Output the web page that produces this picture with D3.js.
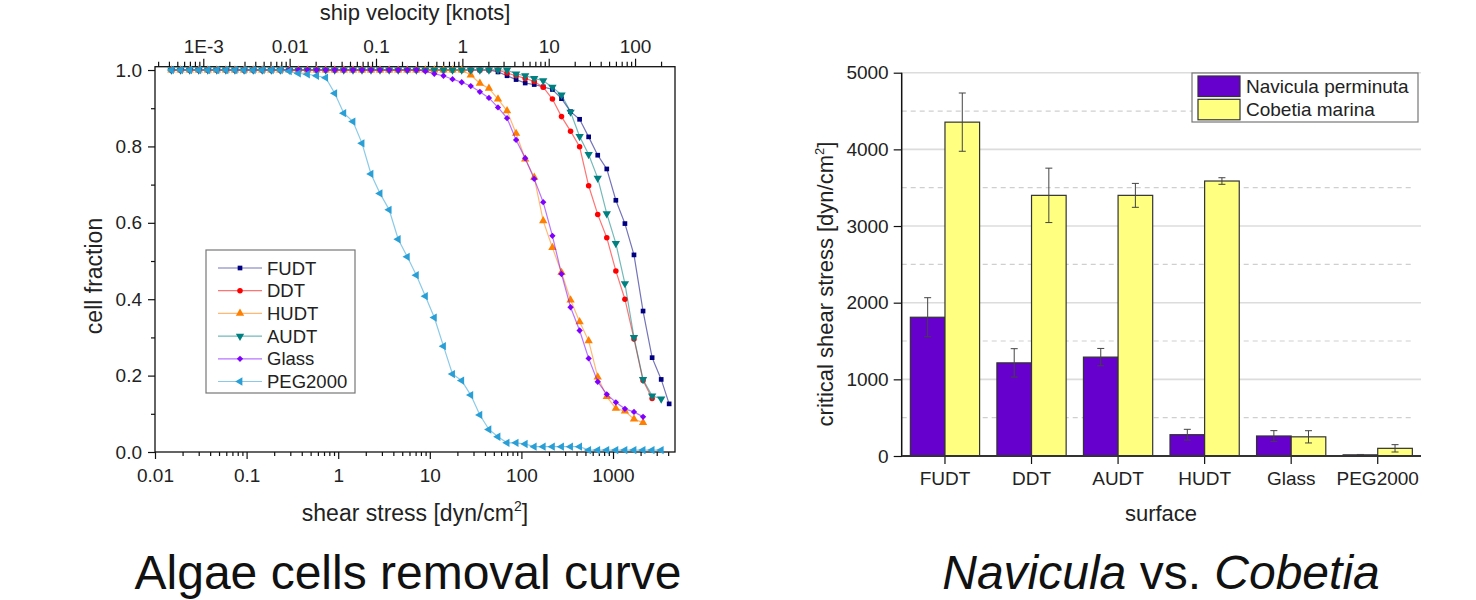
<!DOCTYPE html>
<html>
<head>
<meta charset="utf-8">
<script src="https://cdn.jsdelivr.net/npm/d3@7"></script>
<style>
body { margin: 0; background: #fff; }
svg { display: block; font-family: "Liberation Sans", Arial, sans-serif; }
</style>
</head>
<body>
<svg id="chart" width="1476" height="600"></svg>
<script>
// ---- left chart data: shear stress grid and cell fraction per surface ----
const stress = [0.0151, 0.019, 0.0239, 0.030, 0.0377, 0.0473, 0.0594, 0.0746, 0.0938, 0.118,
  0.148, 0.186, 0.233, 0.293, 0.368, 0.462, 0.581, 0.730, 0.916, 1.15,
  1.45, 1.82, 2.28, 2.86, 3.60, 4.52, 5.68, 7.13, 8.95, 11.2,
  14.1, 17.7, 22.3, 28.0, 35.2, 44.2, 55.5, 69.7, 87.5, 110,
  138, 173, 218, 274, 344, 432, 542, 681, 855, 1074,
  1349, 1694, 2128, 2673, 3357, 4100];

const fudt = [1, 1, 1, 1, 1, 1, 1, 1, 1, 1,
  1, 1, 1, 1, 1, 1, 1, 1, 1, 1,
  1, 1, 1, 1, 1, 1, 1, 1, 1, 1,
  1, 1, 1, 1, 1, 1, 0.995, 0.985, 0.975, 0.966,
  0.962, 0.956, 0.949, 0.925, 0.891, 0.871, 0.825, 0.777, 0.741, 0.659,
  0.598, 0.516, 0.369, 0.247, 0.190, 0.126];
const ddt = [1, 1, 1, 1, 1, 1, 1, 1, 1, 1,
  1, 1, 1, 1, 1, 1, 1, 1, 1, 1,
  1, 1, 1, 1, 1, 1, 1, 1, 1, 1,
  1, 1, 1, 1, 1, 1, 1, 0.992, 0.985, 0.978,
  0.970, 0.955, 0.924, 0.878, 0.840, 0.799, 0.697, 0.622, 0.561, 0.474,
  0.400, 0.296, 0.187, 0.140];
const hudt = [1, 1, 1, 1, 1, 1, 1, 1, 1, 1,
  1, 1, 1, 1, 1, 1, 1, 1, 1, 1,
  1, 1, 1, 1, 1, 1, 1, 1, 1, 1,
  1, 1, 1, 0.987, 0.965, 0.952, 0.924, 0.893, 0.834, 0.767,
  0.719, 0.605, 0.535, 0.470, 0.398, 0.341, 0.291, 0.196, 0.145, 0.114,
  0.107, 0.086, 0.077];
const audt = [1, 1, 1, 1, 1, 1, 1, 1, 1, 1,
  1, 1, 1, 1, 1, 1, 1, 1, 1, 1,
  1, 1, 1, 1, 1, 1, 1, 1, 1, 1,
  1, 1, 1, 1, 1, 1, 1, 1, 0.990, 0.985,
  0.978, 0.972, 0.955, 0.935, 0.890, 0.826, 0.779, 0.717, 0.624, 0.546,
  0.441, 0.300, 0.190, 0.147, 0.139];
const glass = [1, 1, 1, 1, 1, 1, 1, 1, 1, 1,
  1, 1, 1, 1, 1, 1, 1, 1, 1, 1,
  1, 1, 1, 1, 1, 1, 1, 1, 0.997, 0.990,
  0.985, 0.976, 0.968, 0.958, 0.943, 0.927, 0.902, 0.874, 0.817, 0.769,
  0.715, 0.654, 0.566, 0.466, 0.379, 0.318, 0.245, 0.184, 0.151, 0.130,
  0.113, 0.105, 0.092];
const peg2000 = [1, 1, 1, 1, 1, 1, 1, 1, 1, 1,
  1, 1, 1, 0.997, 0.991, 0.989, 0.985, 0.980, 0.939, 0.887,
  0.865, 0.808, 0.728, 0.677, 0.634, 0.557, 0.511, 0.463, 0.408, 0.352,
  0.277, 0.204, 0.187, 0.149, 0.097, 0.059, 0.040, 0.024, 0.024, 0.021,
  0.014, 0.014, 0.014, 0.014, 0.014, 0.014, 0.005, 0.005, 0.005, 0.005,
  0.005, 0.005, 0.005, 0.005, 0.005];

const seriesNames = ["FUDT", "DDT", "HUDT", "AUDT", "Glass", "PEG2000"];
const seriesValues = [fudt, ddt, hudt, audt, glass, peg2000];
const seriesColors = ["#000080", "#ff0000", "#ff8000", "#008080", "#8000ff", "#2a9fd6"];

const stressTickValues = [0.01, 0.1, 1, 10, 100, 1000];
const stressTickLabels = ["0.01", "0.1", "1", "10", "100", "1000"];
const velocityTickValues = [0.001, 0.01, 0.1, 1, 10, 100];
const velocityTickLabels = ["1E-3", "0.01", "0.1", "1", "10", "100"];
const fractionTicks = [0, 0.2, 0.4, 0.6, 0.8, 1.0];
const fractionMinor = [0.1, 0.3, 0.5, 0.7, 0.9];

// ---- right chart data ----
const surfaces = ["FUDT", "DDT", "AUDT", "HUDT", "Glass", "PEG2000"];
const species = ["Navicula perminuta", "Cobetia marina"];
const navicula = [1810, 1215, 1290, 278, 261, 15];
const naviculaErr = [255, 185, 113, 70, 70, 5];
const cobetia = [4355, 3400, 3400, 3587, 250, 100];
const cobetiaErr = [380, 355, 156, 43, 80, 48];
const speciesColors = ["#6600cc", "#ffff80"];
const criticalTicks = [0, 1000, 2000, 3000, 4000, 5000];
const criticalMinor = [500, 1500, 2500, 3500, 4500];

const svg = d3.select("#chart");
const ink = "#222";

const cleanAxis = (g, size) => {
  g.attr("font-family", null).attr("font-size", size);
  g.select(".domain").remove();
  g.selectAll(".tick line").attr("stroke", "#111").attr("stroke-width", 1.2);
  g.selectAll(".tick text").attr("fill", ink);
};

// ================= left: removal curve =================
const x = d3.scaleLog().domain([0.01, 4750]).range([155, 675]);
const xTop = d3.scaleLog().domain([2.76e-4, 290]).range([155, 675]);
const y = d3.scaleLinear().domain([0, 1.0087]).range([452, 66.7]);

const left = svg.append("g");

const minorOf = scale => scale.ticks().filter(t => {
  const m = t / Math.pow(10, Math.floor(Math.log10(t) + 1e-9));
  return Math.abs(m - 1) > 1e-6;
});

left.append("g")
  .attr("transform", `translate(0,${y.range()[0]})`)
  .call(d3.axisBottom(x).tickValues(minorOf(x)).tickSize(4).tickFormat(""))
  .call(cleanAxis, 19);
left.append("g")
  .attr("transform", `translate(0,${y.range()[0]})`)
  .call(d3.axisBottom(x).tickValues(stressTickValues).tickSize(7).tickPadding(10)
    .tickFormat((d, i) => stressTickLabels[i]))
  .call(cleanAxis, 19);

left.append("g")
  .attr("transform", `translate(0,${y.range()[1]})`)
  .call(d3.axisTop(xTop).tickValues(minorOf(xTop)).tickSize(5).tickFormat(""))
  .call(cleanAxis, 19);
left.append("g")
  .attr("transform", `translate(0,${y.range()[1]})`)
  .call(d3.axisTop(xTop).tickValues(velocityTickValues).tickSize(8).tickPadding(6)
    .tickFormat((d, i) => velocityTickLabels[i]))
  .call(cleanAxis, 19);

left.append("g")
  .attr("transform", `translate(${x.range()[0]},0)`)
  .call(d3.axisLeft(y).tickValues(fractionMinor).tickSize(4).tickFormat(""))
  .call(cleanAxis, 19);
left.append("g")
  .attr("transform", `translate(${x.range()[0]},0)`)
  .call(d3.axisLeft(y).tickValues(fractionTicks).tickSize(7).tickPadding(6).tickFormat(d3.format(".1f")))
  .call(cleanAxis, 19);

left.append("rect")
  .attr("x", x.range()[0]).attr("y", y.range()[1])
  .attr("width", x.range()[1] - x.range()[0])
  .attr("height", y.range()[0] - y.range()[1])
  .attr("fill", "none").attr("stroke", "#111").attr("stroke-width", 1.3);

const markers = [
  { type: d3.symbolSquare, size: 22, rot: 0 },
  { type: d3.symbolCircle, size: 24, rot: 0 },
  { type: d3.symbolTriangle, size: 30, rot: 0 },
  { type: d3.symbolTriangle, size: 30, rot: 180 },
  { type: d3.symbolSquare, size: 20, rot: 45 },
  { type: d3.symbolTriangle, size: 30, rot: -90 }
];

const line = d3.line().x(d => x(d[0])).y(d => y(d[1]));

seriesNames.forEach((name, i) => {
  const pts = seriesValues[i].map((f, k) => [stress[k], f]);
  const g = left.append("g");
  g.append("path")
    .attr("d", line(pts))
    .attr("fill", "none")
    .attr("stroke", seriesColors[i])
    .attr("stroke-opacity", 0.55)
    .attr("stroke-width", 1.2);
  const sym = d3.symbol().type(markers[i].type).size(markers[i].size);
  g.selectAll("path.m")
    .data(pts)
    .enter().append("path")
    .attr("class", "m")
    .attr("d", sym)
    .attr("transform", d => `translate(${x(d[0])},${y(d[1])}) rotate(${markers[i].rot})`)
    .attr("fill", seriesColors[i]);
});

// legend
const lg = left.append("g");
lg.append("rect")
  .attr("x", 206).attr("y", 250).attr("width", 149).attr("height", 143)
  .attr("fill", "#fff").attr("stroke", "#777").attr("stroke-width", 1.2);
seriesNames.forEach((name, i) => {
  const cy = 268 + i * 22.7;
  lg.append("line")
    .attr("x1", 218).attr("x2", 262).attr("y1", cy).attr("y2", cy)
    .attr("stroke", seriesColors[i]).attr("stroke-opacity", 0.55).attr("stroke-width", 1.2);
  lg.append("path")
    .attr("d", d3.symbol().type(markers[i].type).size(markers[i].size))
    .attr("transform", `translate(240,${cy}) rotate(${markers[i].rot})`)
    .attr("fill", seriesColors[i]);
  lg.append("text")
    .attr("x", 267).attr("y", cy).attr("dy", "0.36em")
    .attr("font-size", 18.5).attr("fill", ink)
    .text(name);
});

// axis titles
const xt = left.append("text")
  .attr("x", 415).attr("y", 521).attr("text-anchor", "middle")
  .attr("font-size", 23).attr("fill", ink);
xt.append("tspan").text("shear stress [dyn/cm");
xt.append("tspan").attr("dy", -10).attr("font-size", 14).text("2");
xt.append("tspan").attr("dy", 10).text("]");

left.append("text")
  .attr("x", 415).attr("y", 20).attr("text-anchor", "middle")
  .attr("font-size", 22).attr("fill", ink)
  .text("ship velocity [knots]");

left.append("text")
  .attr("transform", "translate(102,276) rotate(-90)")
  .attr("text-anchor", "middle")
  .attr("font-size", 23).attr("fill", ink)
  .text("cell fraction");

svg.append("text")
  .attr("x", 408).attr("y", 589).attr("text-anchor", "middle")
  .attr("font-size", 48).attr("fill", "#111")
  .text("Algae cells removal curve");

// ================= right: critical shear stress =================
const xb = d3.scaleBand().domain(surfaces).range([901.7, 1421]).paddingInner(0.2).paddingOuter(0.1);
const xs = d3.scaleBand().domain(species).range([0, xb.bandwidth()]);
const yb = d3.scaleLinear().domain([0, 5000]).range([456, 72.7]);

const right = svg.append("g");

right.append("g").selectAll("line")
  .data(criticalMinor).enter().append("line")
  .attr("x1", xb.range()[0]).attr("x2", xb.range()[1] - 10)
  .attr("y1", d => yb(d)).attr("y2", d => yb(d))
  .attr("stroke", "#cfcfcf").attr("stroke-width", 1.2).attr("stroke-dasharray", "5,4");
right.append("g").selectAll("line")
  .data(criticalTicks.slice(1)).enter().append("line")
  .attr("x1", xb.range()[0]).attr("x2", xb.range()[1])
  .attr("y1", d => yb(d)).attr("y2", d => yb(d))
  .attr("stroke", "#dcdcdc").attr("stroke-width", 1.6);

const barData = surfaces.flatMap((s, i) => [
  { s, sp: species[0], v: navicula[i], e: naviculaErr[i], c: speciesColors[0] },
  { s, sp: species[1], v: cobetia[i], e: cobetiaErr[i], c: speciesColors[1] }
]);

right.append("g").selectAll("rect")
  .data(barData).enter().append("rect")
  .attr("x", d => xb(d.s) + xs(d.sp))
  .attr("y", d => yb(d.v))
  .attr("width", xs.bandwidth())
  .attr("height", d => yb(0) - yb(d.v))
  .attr("fill", d => d.c)
  .attr("stroke", "#333").attr("stroke-width", 1.2);

const eb = right.append("g").attr("stroke", "#444").attr("stroke-width", 1);
barData.forEach(d => {
  const cx = xb(d.s) + xs(d.sp) + xs.bandwidth() / 2;
  eb.append("line").attr("x1", cx).attr("x2", cx).attr("y1", yb(d.v + d.e)).attr("y2", yb(d.v - d.e));
  eb.append("line").attr("x1", cx - 3.5).attr("x2", cx + 3.5).attr("y1", yb(d.v + d.e)).attr("y2", yb(d.v + d.e));
  eb.append("line").attr("x1", cx - 3.5).attr("x2", cx + 3.5).attr("y1", yb(d.v - d.e)).attr("y2", yb(d.v - d.e));
});

right.append("g")
  .attr("transform", `translate(${xb.range()[0]},0)`)
  .call(d3.axisLeft(yb).tickValues(criticalTicks).tickSize(8).tickPadding(5).tickFormat(d3.format("d")))
  .call(cleanAxis, 19);
right.append("g")
  .attr("transform", `translate(0,${yb(0)})`)
  .call(d3.axisBottom(xb).tickSize(8).tickPadding(8))
  .call(cleanAxis, 19);

right.append("line")
  .attr("x1", xb.range()[0]).attr("x2", xb.range()[0])
  .attr("y1", yb(5000)).attr("y2", yb(0) + 1)
  .attr("stroke", "#111").attr("stroke-width", 1.5);
right.append("line")
  .attr("x1", xb.range()[0]).attr("x2", xb.range()[1])
  .attr("y1", yb(0)).attr("y2", yb(0))
  .attr("stroke", "#333").attr("stroke-width", 2);

// legend
const rl = right.append("g");
rl.append("rect")
  .attr("x", 1192).attr("y", 73).attr("width", 226).attr("height", 49)
  .attr("fill", "#fff").attr("stroke", "#777").attr("stroke-width", 1.2);
species.forEach((sp, i) => {
  const top = 76 + i * 23.3;
  rl.append("rect")
    .attr("x", 1198).attr("y", top).attr("width", 42).attr("height", 20.5)
    .attr("fill", speciesColors[i]).attr("stroke", "#333").attr("stroke-width", 1.2);
  rl.append("text")
    .attr("x", 1246).attr("y", top + 10.3).attr("dy", "0.36em")
    .attr("font-size", 19).attr("fill", ink)
    .text(sp);
});

right.append("text")
  .attr("x", 1161).attr("y", 521).attr("text-anchor", "middle")
  .attr("font-size", 22).attr("fill", ink)
  .text("surface");

const yt = right.append("text")
  .attr("transform", "translate(833,284) rotate(-90)")
  .attr("text-anchor", "middle")
  .attr("font-size", 22).attr("fill", ink);
yt.append("tspan").text("critical shear stress [dyn/cm");
yt.append("tspan").attr("dy", -9).attr("font-size", 13).text("2");
yt.append("tspan").attr("dy", 9).text("]");

const rt = svg.append("text")
  .attr("x", 1161).attr("y", 589).attr("text-anchor", "middle")
  .attr("font-size", 48).attr("fill", "#111");
rt.append("tspan").attr("font-style", "italic").text("Navicula");
rt.append("tspan").text(" vs. ");
rt.append("tspan").attr("font-style", "italic").text("Cobetia");
</script>
</body>
</html>
